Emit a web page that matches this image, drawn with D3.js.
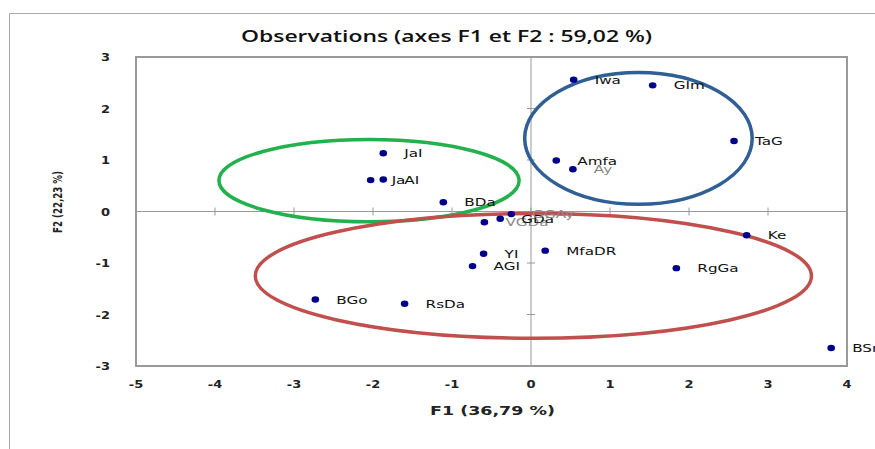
<!DOCTYPE html>
<meta charset="utf-8">
<style>
body { margin: 0; background: #fff; }
svg text { font-family: "DejaVu Sans", Verdana, sans-serif; }
.tick-label { font-size: 10px; font-weight: bold; fill: #222; }
.pt-label { font-size: 10.5px; fill: #111; }
.title { font-family: "Open Sans", sans-serif; font-size: 16px; font-weight: 600; fill: #111; }
.axis-title { font-size: 11.5px; font-weight: bold; fill: #222; }
</style>
<body>
<script src="https://d3js.org/d3.v7.min.js"></script>
<script>
var width = 875, height = 449;

// observations (F1, F2)
var names = ["Iwa", "GIm", "TaG", "Amfa", "Ay", "JaI", "Ja", "AI", "BDa",
             "VGDa", "GDa", "GGAy", "YI", "AGI", "MfaDR", "Ke", "RgGa", "BGo", "RsDa", "BSn"];
var f1 = [0.54, 1.54, 2.57, 0.32, 0.53, -1.87, -2.03, -1.87, -1.11,
          -0.59, -0.39, -0.25, -0.60, -0.74, 0.18, 2.73, 1.84, -2.73, -1.60, 3.80];
var f2 = [2.56, 2.45, 1.37, 0.99, 0.82, 1.13, 0.61, 0.62, 0.18,
          -0.21, -0.14, -0.05, -0.82, -1.06, -0.76, -0.46, -1.10, -1.71, -1.79, -2.65];
var faded = ["Ay", "VGDa", "GGAy"];

// hand-drawn groupings (centre and radii in data units)
var groupColors = ["#22b14c", "#2f5f94", "#c0504d"];
var groupCx = [-2.05, 1.36, 0.03];
var groupCy = [0.60, 1.42, -1.25];
var groupRx = [1.90, 1.44, 3.52];
var groupRy = [0.80, 1.28, 1.21];

var xTicks = [-5, -4, -3, -2, -1, 0, 1, 2, 3, 4];
var yTicks = [-3, -2, -1, 0, 1, 2, 3];

var x = d3.scaleLinear().domain([-5, 4]).range([136, 847]);
var y = d3.scaleLinear().domain([-3, 3]).range([366, 57]);

var svg = d3.select("body").append("svg")
    .attr("width", width)
    .attr("height", height);

// outer chart frame
svg.append("path")
    .attr("d", "M9.5," + height + "V13.5H" + width)
    .attr("fill", "none")
    .attr("stroke", "#aaa");

// the source picture is stretched sideways, so texts are widened
svg.append("text")
    .attr("class", "title")
    .attr("x", 241)
    .attr("y", 42)
    .attr("textLength", 411)
    .attr("lengthAdjust", "spacingAndGlyphs")
    .text("Observations (axes F1 et F2 : 59,02 %)");

// plot box
svg.append("rect")
    .attr("x", x(-5))
    .attr("y", y(3))
    .attr("width", x(4) - x(-5))
    .attr("height", y(-3) - y(3))
    .attr("fill", "none")
    .attr("stroke", "#999")
    .attr("stroke-width", 2);

// zero lines
svg.append("line")
    .attr("x1", x(-5)).attr("x2", x(4))
    .attr("y1", y(0)).attr("y2", y(0))
    .attr("stroke", "#999");
svg.append("line")
    .attr("x1", x(0)).attr("x2", x(0))
    .attr("y1", y(3)).attr("y2", y(-3))
    .attr("stroke", "#999");

// tick marks on zero lines
svg.selectAll(".xtick").data(xTicks).enter().append("line")
    .attr("x1", function(d) { return x(d); })
    .attr("x2", function(d) { return x(d); })
    .attr("y1", y(0) - 4).attr("y2", y(0) + 4)
    .attr("stroke", "#999");
svg.selectAll(".ytick").data(yTicks).enter().append("line")
    .attr("x1", x(0) - 4).attr("x2", x(0) + 4)
    .attr("y1", function(d) { return y(d); })
    .attr("y2", function(d) { return y(d); })
    .attr("stroke", "#999");

// tick labels at the box edges
svg.selectAll(".xlab").data(xTicks).enter().append("text")
    .attr("class", "tick-label")
    .attr("transform", function(d) { return "translate(" + x(d) + ",388) scale(1.3,1)"; })
    .attr("text-anchor", "middle")
    .text(function(d) { return d; });
svg.selectAll(".ylab").data(yTicks).enter().append("text")
    .attr("class", "tick-label")
    .attr("transform", function(d) { return "translate(110," + (y(d) + 4) + ") scale(1.3,1)"; })
    .attr("text-anchor", "end")
    .text(function(d) { return d; });

svg.append("text")
    .attr("class", "axis-title")
    .attr("x", 430)
    .attr("y", 415)
    .attr("textLength", 125)
    .attr("lengthAdjust", "spacingAndGlyphs")
    .text("F1 (36,79 %)");
svg.append("text")
    .attr("class", "axis-title")
    .style("font-size", "13px")
    .attr("transform", "translate(62,233) rotate(-90)")
    .attr("textLength", 62)
    .attr("lengthAdjust", "spacingAndGlyphs")
    .text("F2 (22,23 %)");

// ellipses
svg.selectAll(".group").data(groupColors).enter().append("ellipse")
    .attr("cx", function(d, i) { return x(groupCx[i]); })
    .attr("cy", function(d, i) { return y(groupCy[i]); })
    .attr("rx", function(d, i) { return x(groupRx[i]) - x(0); })
    .attr("ry", function(d, i) { return y(0) - y(groupRy[i]); })
    .attr("fill", "none")
    .attr("stroke", function(d) { return d; })
    .attr("stroke-width", 3.5);

// points
var pts = svg.selectAll(".pt").data(names).enter().append("g");
pts.append("ellipse")
    .attr("cx", function(d, i) { return x(f1[i]); })
    .attr("cy", function(d, i) { return y(f2[i]); })
    .attr("rx", 3.8)
    .attr("ry", 3.2)
    .attr("fill", "#00008b");
pts.append("text")
    .attr("class", "pt-label")
    .attr("transform", function(d, i) {
      return "translate(" + (x(f1[i]) + 21) + "," + (y(f2[i]) + 4) + ") scale(1.45,1)";
    })
    .style("fill", function(d) { return faded.indexOf(d) >= 0 ? "#888" : "#111"; })
    .text(function(d) { return d; });
</script>
</body>
